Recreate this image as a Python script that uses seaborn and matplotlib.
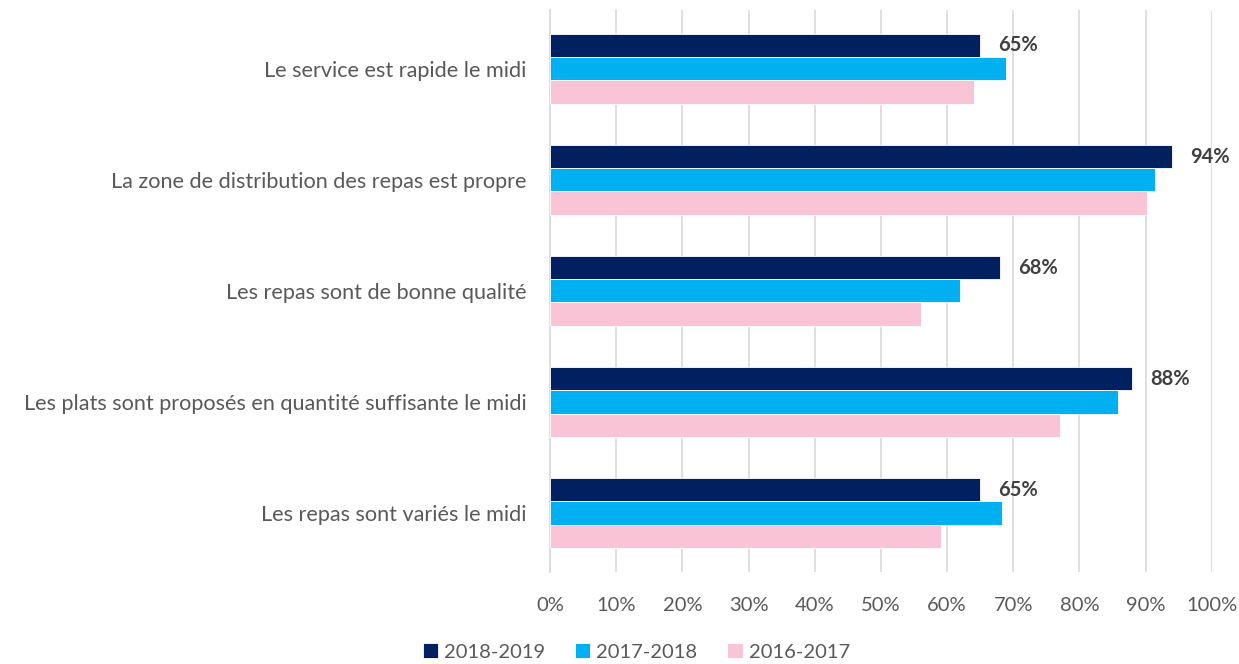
import pandas as pd
import numpy as np
import matplotlib.pyplot as plt
import seaborn as sns

# ========== DATI ==========
categories = [
    'Le service est rapide le midi',
    'La zone de distribution des repas est propre',
    'Les repas sont de bonne qualité',
    'Les plats sont proposés en quantité suffisante le midi',
    'Les repas sont variés le midi',
]
years = ['2018-2019', '2017-2018', '2016-2017']
vals_2018_2019 = [0.65, 0.94, 0.68, 0.88, 0.65]
vals_2017_2018 = [0.689, 0.914, 0.619, 0.859, 0.683]
vals_2016_2017 = [0.640, 0.902, 0.560, 0.771, 0.591]
palette = ['#002060', '#00B0F0', '#F9C4D6']

df = pd.DataFrame({
    'Question': categories * 3,
    'Année': [years[0]] * 5 + [years[1]] * 5 + [years[2]] * 5,
    'Valeur': vals_2018_2019 + vals_2017_2018 + vals_2016_2017,
})

# ========== GRAFICO ==========
sns.set_theme(style='white')
plt.rcParams['font.family'] = ['Lato', 'DejaVu Sans']

fig = plt.figure(figsize=(12.39, 6.64), dpi=100)
ax = fig.add_axes([0.444, 0.139, 0.534, 0.846])

sns.barplot(data=df, y='Question', x='Valeur', hue='Année', order=categories,
            hue_order=years, palette=palette, orient='h', width=0.63,
            saturation=1, edgecolor='white', linewidth=0.6, ax=ax, zorder=3)

ax.set_xlim(0, 1)
ax.set_ylim(4.53, -0.53)
ax.set_xticks(np.arange(0, 1.01, 0.1))
ax.set_xticklabels([f'{int(round(t * 100))}%' for t in np.arange(0, 1.01, 0.1)],
                   fontsize=14.5, color='#595959')
ax.tick_params(axis='x', length=0, pad=18)
ax.tick_params(axis='y', length=0, pad=17, labelsize=15.6, labelcolor='#595959')
ax.set_xlabel('')
ax.set_ylabel('')
ax.grid(axis='x', color='#D9D9D9', linewidth=1.2, zorder=0)
for s in ['top', 'right', 'bottom']:
    ax.spines[s].set_visible(False)
ax.spines['left'].set_color('#D9D9D9')
ax.spines['left'].set_linewidth(1.2)

# Etichette solo per 2018-2019
ax.bar_label(ax.containers[0], labels=[f'{int(round(v * 100))}%' for v in vals_2018_2019],
             padding=13, fontsize=14.5, fontweight='bold', color='#404040')

ax.legend(loc='upper center', bbox_to_anchor=(0.13, -0.095), ncol=3, frameon=False,
          fontsize=14.5, handlelength=0.75, handleheight=0.75, handletextpad=0.3,
          columnspacing=1.5, labelcolor='#595959')

plt.savefig('out.png', dpi=100)
